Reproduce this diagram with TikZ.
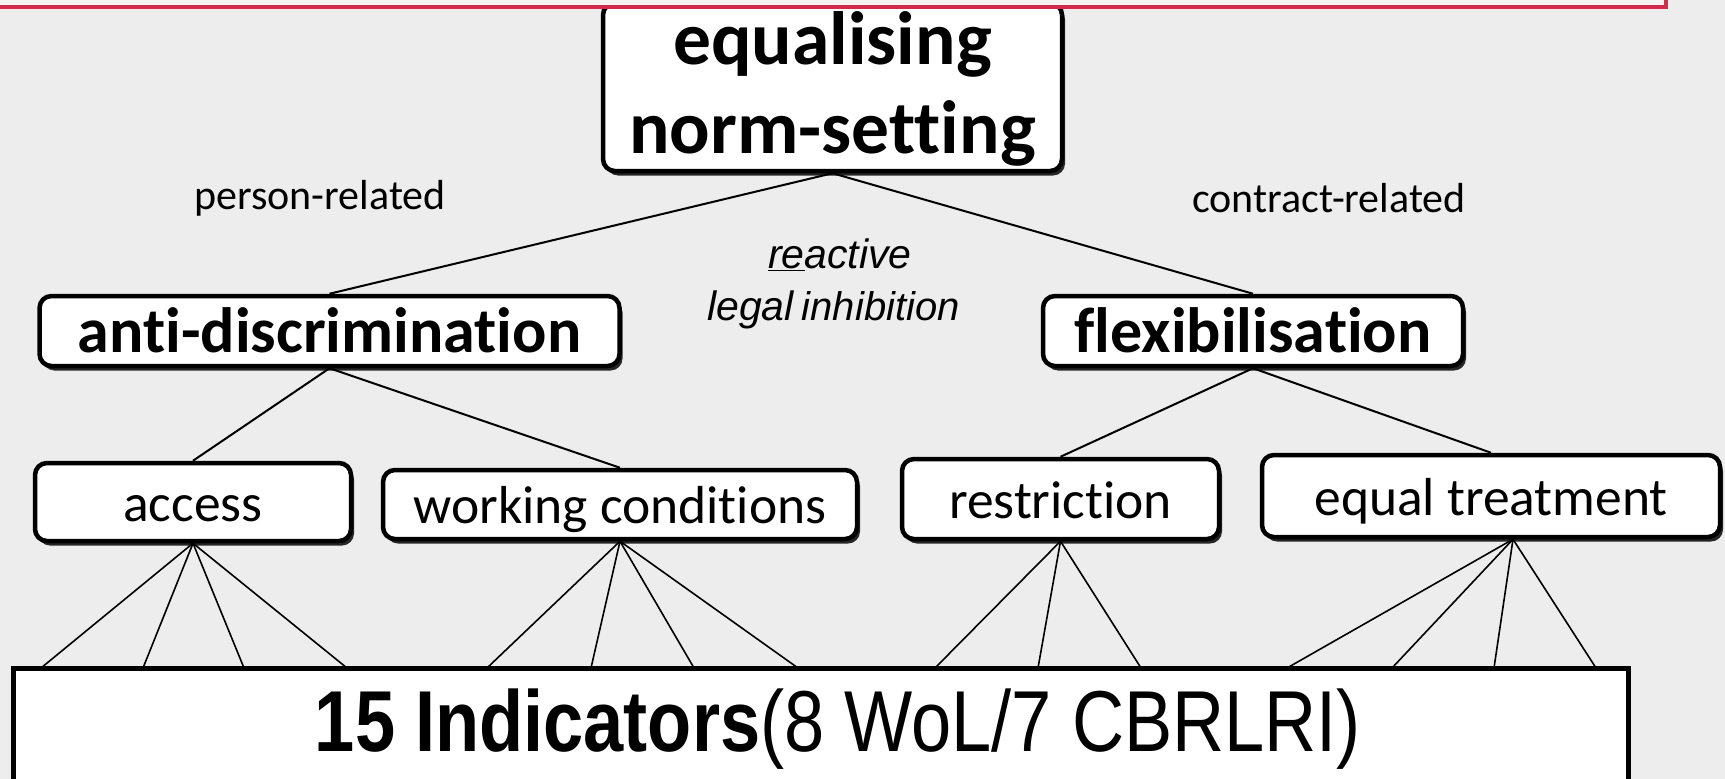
\documentclass[tikz,border=0pt]{standalone}
\usepackage{graphicx}
\usepackage{fontspec}
\setmainfont{Carlito}[RawFeature={-liga}]
\newfontfamily\arialf{Liberation Sans}
\usetikzlibrary{shadows,calc}
\definecolor{bg}{HTML}{EDEDED}
\definecolor{pinkline}{HTML}{D22A4C}
\definecolor{pinkfill}{HTML}{F3F3F3}
\begin{document}
\begin{tikzpicture}[x=1pt,y=-1pt,
  box/.style={draw=black, line width=4.5pt, fill=white, rounded corners=12pt, inner sep=0pt,
    drop shadow={shadow xshift=3pt, shadow yshift=-4.5pt, fill=black!85, opacity=1}},
  rootfont/.style={font=\fontsize{75.5}{89}\selectfont\bfseries, text height=0pt, text depth=46pt},
  bigbold/.style={font=\fontsize{64}{64}\selectfont\bfseries, text height=42pt, text depth=0pt},
  reg/.style={font=\fontsize{53.5}{53.5}\selectfont, text height=38pt, text depth=0pt},
  side/.style={font=\fontsize{42}{42}\selectfont, inner sep=0pt},
  ital/.style={font=\arialf\itshape, inner sep=0pt, anchor=base west},
  conn/.style={line width=2pt},
  fan/.style={line width=1.6pt}]
\fill[bg] (0,0) rectangle (1725,779);
\useasboundingbox (0,0) rectangle (1725,779);

% root
\node[box, rootfont, minimum width=459pt, minimum height=168pt] (root) at (832.5,87)
  {\begin{tabular}[t]{@{}c@{}}equalising\\norm-setting\end{tabular}};
% top banner box
\draw[pinkline, line width=3.5pt, fill=pinkfill] (-20,-40) rectangle (1666,7);

% second level
\node[box, bigbold, minimum width=580pt, minimum height=70pt] (anti) at (329.5,331) {anti-discrimination};
\node[box, bigbold, minimum width=420pt, minimum height=70pt] (flex) at (1253,331) {flexibilisation};

% third level
\node[box, reg, minimum width=316pt, minimum height=78pt] (acc) at (193,502) {access};
\node[box, reg, minimum width=474pt, minimum height=69pt] (work) at (620,504.5) {working conditions};
\node[box, reg, minimum width=317pt, minimum height=80pt] (restr) at (1060.5,499) {restriction};
\node[box, reg, minimum width=458pt, minimum height=82pt] (eq) at (1491,496) {equal treatment};

% indicators box
\node[draw=black, line width=5pt, fill=white, inner sep=0pt, minimum width=1615pt, minimum height=132pt,
  text height=34pt, text depth=0pt,
  drop shadow={shadow xshift=2pt, shadow yshift=-2pt, fill=black!60, opacity=1}] (ind) at (820.5,734)
  {\hspace*{35pt}{\arialf\fontsize{86.5}{86.5}\selectfont\scalebox{0.835}[1]{\textbf{15 Indicators}(8 WoL/7 CBRLRI)}}};

% labels
\node[side] (pr) at (320,198) {person-related};
\node[side] (cr) at (1329,198) {contract-related};
\node[ital, font=\arialf\itshape\fontsize{41}{41}\selectfont] (rea) at (768,268) {\underline{re}active};
\node[ital] (leg) at (707,320) {{\fontsize{41}{41}\selectfont legal}\hspace{8pt}{\fontsize{40}{40}\selectfont inhibition}};

% connectors
\draw[conn] (root.south) -- (anti.north);
\draw[conn] (root.south) -- (flex.north);
\draw[conn] (anti.south) -- (acc.north);
\draw[conn] (anti.south) -- (work.north);
\draw[conn] (flex.south) -- (restr.north);
\draw[conn] (flex.south) -- (eq.north);

% fan end points on indicators box
\coordinate (i1) at (41,668);
\coordinate (i2) at (143,668);
\coordinate (i3) at (244,668);
\coordinate (i4) at (347,668);
\coordinate (i5) at (487,668);
\coordinate (i6) at (591,668);
\coordinate (i7) at (694,668);
\coordinate (i8) at (798,668);
\coordinate (i9) at (935,668);
\coordinate (i10) at (1038,668);
\coordinate (i11) at (1141,668);
\coordinate (i12) at (1287,668);
\coordinate (i13) at (1392,668);
\coordinate (i14) at (1494,668);
\coordinate (i15) at (1596,668);
\coordinate (eqs) at ($(eq.south)+(22,0)$);

\foreach \k in {1,2,3,4} \draw[fan] (acc.south) -- (i\k);
\foreach \k in {5,6,7,8} \draw[fan] (work.south) -- (i\k);
\foreach \k in {9,10,11} \draw[fan] (restr.south) -- (i\k);
\foreach \k in {12,13,14,15} \draw[fan] (eqs) -- (i\k);
\end{tikzpicture}
\end{document}
